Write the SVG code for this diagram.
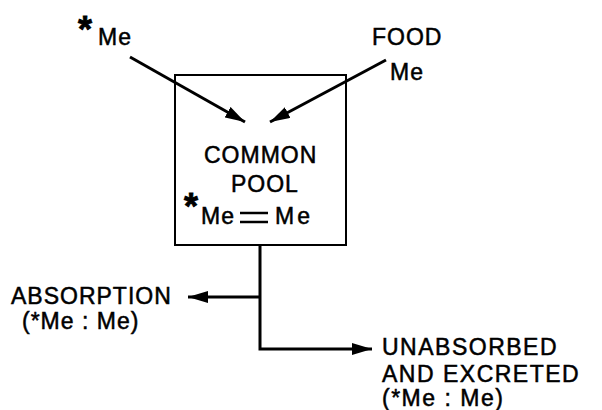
<svg xmlns="http://www.w3.org/2000/svg" width="602" height="410" viewBox="0 0 602 410">
<style>
text{font-family:"Liberation Sans",Arial,sans-serif;font-size:23px;fill:#000;stroke:#000;stroke-width:0.5;letter-spacing:1px}
.ast{font-size:36px;font-weight:bold;stroke-width:0.8}
.ln{stroke:#000;stroke-width:3;fill:none}
</style>
<defs>
<marker id="ah" viewBox="0 0 20 12" refX="20" refY="6" markerWidth="20" markerHeight="12" markerUnits="userSpaceOnUse" orient="auto">
<path d="M0,0 L20,6 L0,12 Z" fill="#000"/>
</marker>
</defs>
<rect width="602" height="410" fill="#fff"/>
<g id="pool">
<rect x="175" y="75" width="171" height="170" fill="none" stroke="#000" stroke-width="2"/>
<text x="204" y="163">COMMON</text>
<text x="231" y="192">POOL</text>
<text x="184" y="219" class="ast">*</text>
<text x="201" y="224">Me</text>
<line x1="240" y1="213" x2="268" y2="213" stroke="#000" stroke-width="2.5"/>
<line x1="240" y1="222" x2="268" y2="222" stroke="#000" stroke-width="2.5"/>
<text x="275" y="224" style="letter-spacing:3px">Me</text>
</g>
<g id="tracer">
<text x="78" y="42" class="ast">*</text>
<text x="98" y="45">Me</text>
</g>
<g id="food">
<text x="372" y="45">FOOD</text>
<text x="390" y="80">Me</text>
</g>
<g id="absorption">
<text x="11" y="304">ABSORPTION</text>
<text x="22" y="329">(*Me : Me)</text>
</g>
<g id="unabsorbed">
<text x="382" y="355" style="letter-spacing:1.5px">UNABSORBED</text>
<text x="382" y="382" style="letter-spacing:1.5px">AND EXCRETED</text>
<text x="382" y="406" style="letter-spacing:1.5px">(*Me : Me)</text>
</g>
<g id="connectors">
<line class="ln" x1="130" y1="57" x2="245" y2="122" marker-end="url(#ah)"/>
<line class="ln" x1="386" y1="60" x2="270" y2="122" marker-end="url(#ah)"/>
<polyline class="ln" points="260,245 260,349 372,349" marker-end="url(#ah)"/>
<line class="ln" x1="260" y1="297" x2="188" y2="297" marker-end="url(#ah)"/>
</g>
</svg>
